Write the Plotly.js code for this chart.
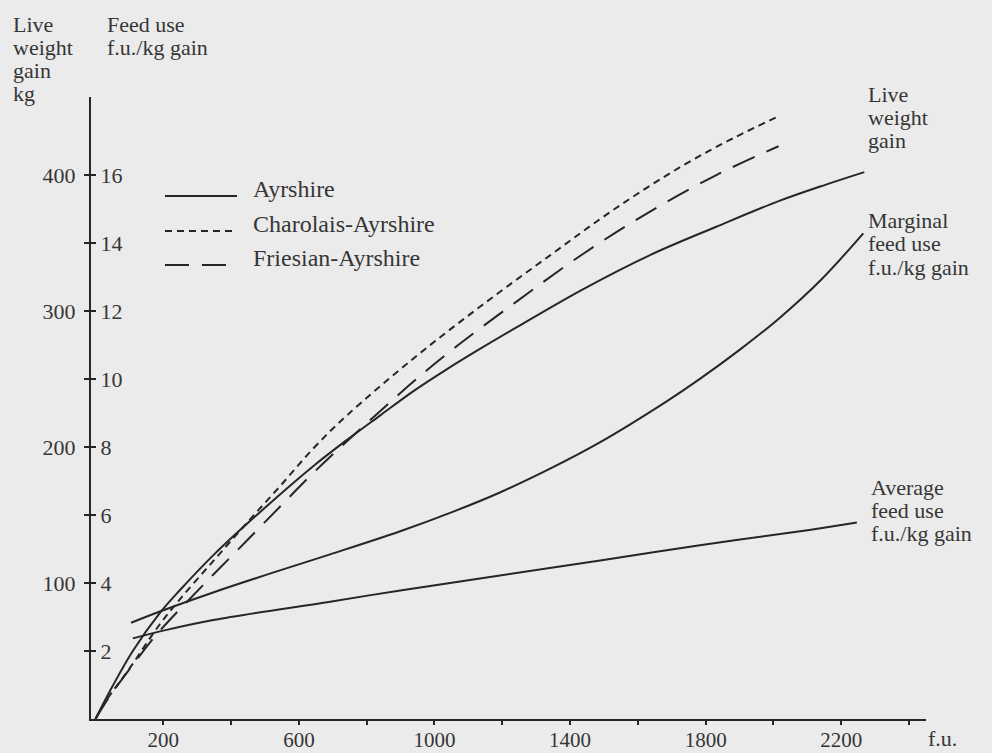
<!DOCTYPE html>
<html>
<head>
<meta charset="utf-8">
<script src="https://cdn.plot.ly/plotly-3.0.1.min.js"></script>
<style>
  html, body { margin: 0; padding: 0; background: #ebebeb; }
  #chart { width: 992px; height: 753px; }
</style>
</head>
<body>
<div id="chart"></div>
<script>
// Feed input (f.u.) against live weight gain (kg) for three breeds,
// plus marginal and average feed use (f.u./kg gain) for Ayrshire.

const seriesNames = ['Ayrshire', 'Charolais-Ayrshire', 'Friesian-Ayrshire'];

// Live weight gain, kg
const ayrshireFeed = [0, 50, 110, 190, 250, 350, 485, 643, 741, 839, 938, 1036, 1134, 1243, 1439, 1636, 1833, 2019, 2157, 2268];
const ayrshireGain = [0, 24, 50, 78, 95, 121, 152, 186, 205, 223, 241, 257, 272, 288, 316, 341, 362, 381, 393, 402];

const charolaisFeed = [0, 30, 100, 185, 249, 347, 446, 544, 643, 741, 938, 1134, 1342, 1538, 1734, 1882, 2015];
const charolaisGain = [0, 13, 37, 68, 88, 116, 144, 171, 199, 223, 265, 303, 341, 376, 407, 427, 443];

const friesianFeed = [0, 40, 120, 180, 250, 347, 446, 544, 643, 741, 938, 1045, 1134, 1243, 1439, 1636, 1833, 2015];
const friesianGain = [0, 16, 43, 62, 81, 106, 131, 156, 181, 204, 248, 270, 287, 307, 342, 373, 400, 421];

// Feed use, f.u./kg gain
const marginalFeed = [105, 190, 347, 544, 692, 899, 1046, 1193, 1341, 1489, 1685, 1783, 1901, 2019, 2142, 2265];
const marginalUse  = [2.83, 3.16, 3.72, 4.37, 4.84, 5.52, 6.06, 6.66, 7.36, 8.14, 9.34, 10.0, 10.86, 11.80, 12.93, 14.28];

const averageFeed = [110, 210, 347, 692, 899, 1193, 1489, 1783, 2079, 2246];
const averageUse  = [2.37, 2.62, 2.91, 3.45, 3.78, 4.22, 4.66, 5.11, 5.52, 5.78];

// Axis ticks
const feedTicks = [200, 400, 600, 800, 1000, 1200, 1400, 1600, 1800, 2000, 2200, 2400];
const feedTickText = ['200', '', '600', '', '1000', '', '1400', '', '1800', '', '2200', ''];
const gainTicks = [50, 100, 150, 200, 250, 300, 350, 400];
const gainTickText = ['', '100', '', '200', '', '300', '', '400'];
const useTicks = [2, 4, 6, 8, 10, 12, 14, 16];
const useTickText = ['2', '4', '6', '8', '10', '12', '14', '16'];

const INK = '#262626';
const TEXT = '#363636';
const BG = '#ebebeb';
const FONT = '"Liberation Serif", "Times New Roman", serif';
const BLOCK_SIZE = 22;   // stacked axis / curve captions
const KEY_SIZE = 24;     // breed names in the key

const dashes = ['solid', '7px,5px', '24px,13px'];

// plot area in pixels
const W = 992, H = 753;
const L = 91, R = 926, T = 97, B = 719;
const GAIN_MAX = 457.2;            // kg at top of axis; 25 kg = 1 f.u./kg
const px = x => (x - L) / (R - L);
const py = y => (B - y) / (B - T);

function lineStyle(i) {
  return { color: INK, width: 2, dash: dashes[i], shape: 'spline', smoothing: 1 };
}

const traces = [
  { x: ayrshireFeed, y: ayrshireGain, name: seriesNames[0], yaxis: 'y', line: lineStyle(0) },
  { x: charolaisFeed, y: charolaisGain, name: seriesNames[1], yaxis: 'y', line: lineStyle(1) },
  { x: friesianFeed, y: friesianGain, name: seriesNames[2], yaxis: 'y', line: lineStyle(2) },
  { x: marginalFeed, y: marginalUse, name: 'Marginal feed use', yaxis: 'y2', line: lineStyle(0) },
  { x: averageFeed, y: averageUse, name: 'Average feed use', yaxis: 'y2', line: lineStyle(0) }
].map(t => Object.assign(t, { type: 'scatter', mode: 'lines', showlegend: false, hoverinfo: 'skip' }));

// a single line of text, placed by its left edge and baseline (px)
function textLine(text, left, base, size) {
  return {
    text, xref: 'paper', yref: 'paper', x: px(left), y: py(base - size * 0.337),
    xanchor: 'left', yanchor: 'middle', showarrow: false, borderpad: 0,
    font: { family: FONT, size, color: TEXT }
  };
}

const labelLines = [
  ['Live', 12, 32], ['weight', 12, 55], ['gain', 12, 78], ['kg', 12, 101],
  ['Feed use', 106, 32], ['f.u./kg gain', 106, 55],
  ['Live', 867, 102], ['weight', 867, 125], ['gain', 867, 148],
  ['Marginal', 867, 228], ['feed use', 867, 251], ['f.u./kg gain', 867, 275],
  ['Average', 870, 495], ['feed use', 870, 518], ['f.u./kg gain', 870, 541],
  ['f.u.', 927, 746]
];
const annotations = labelLines.map(([t, x, b]) => textLine(t, x, b, BLOCK_SIZE));

// key: sample line and name for each breed
const keyLines = [196, 231, 265];
const keyBaselines = [197.5, 232.5, 266.5];
const shapes = [];
seriesNames.forEach((name, i) => {
  shapes.push({
    type: 'line', xref: 'paper', yref: 'paper',
    x0: px(165), x1: px(237), y0: py(keyLines[i]), y1: py(keyLines[i]),
    line: { color: INK, width: 2, dash: dashes[i] }
  });
  annotations.push(textLine(name, 252, keyBaselines[i], KEY_SIZE));
});

const layout = {
  width: W, height: H,
  margin: { l: L, r: W - R, t: T, b: H - B, pad: 0 },
  paper_bgcolor: BG, plot_bgcolor: BG,
  font: { family: FONT, size: 22, color: TEXT },
  showlegend: false,
  xaxis: {
    range: [-13.3, 2450], showgrid: false, zeroline: false,
    showline: true, linecolor: INK, linewidth: 2,
    tickmode: 'array', tickvals: feedTicks, ticktext: feedTickText,
    ticks: 'outside', ticklen: 4, tickwidth: 2, tickcolor: INK,
    ticklabelstandoff: -3,
    tickfont: { family: FONT, size: 21, color: TEXT }
  },
  yaxis: {
    range: [0, GAIN_MAX], showgrid: false, zeroline: false,
    showline: true, linecolor: INK, linewidth: 2,
    tickmode: 'array', tickvals: gainTicks, ticktext: gainTickText,
    ticks: 'outside', ticklen: 5, tickwidth: 2, tickcolor: INK,
    ticklabelstandoff: 4,
    tickfont: { family: FONT, size: 22, color: TEXT }
  },
  yaxis2: {
    overlaying: 'y', side: 'left',
    range: [0, GAIN_MAX / 25], showgrid: false, zeroline: false, showline: false,
    tickmode: 'array', tickvals: useTicks, ticktext: useTickText,
    ticks: 'inside', ticklen: 5, tickwidth: 2, tickcolor: INK,
    ticklabelposition: 'inside', ticklabelstandoff: 6,
    tickfont: { family: FONT, size: 22, color: TEXT }
  },
  shapes, annotations
};

Plotly.newPlot('chart', traces, layout, { staticPlot: true, displayModeBar: false });
</script>
</body>
</html>
